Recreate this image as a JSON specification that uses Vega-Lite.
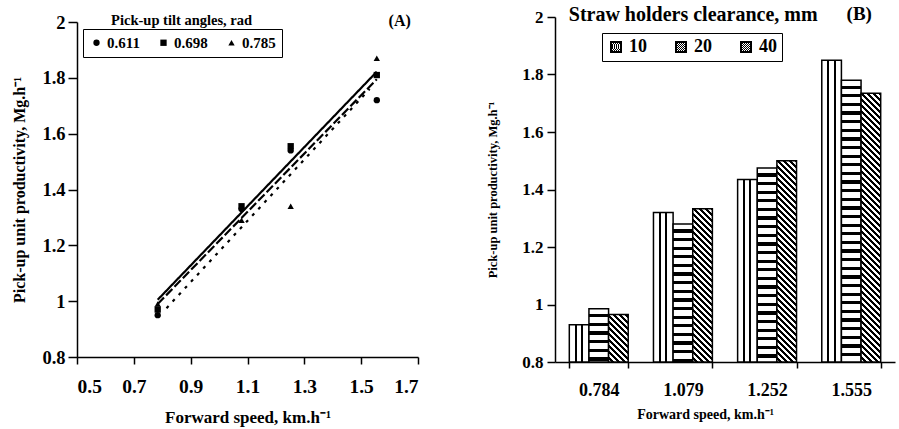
{
"$schema": "https://vega.github.io/schema/vega-lite/v6.json",
"background": "white",
"padding": {"left": 11, "top": 5, "right": 2, "bottom": 2},
"params": [
 {"name": "vgrad", "value": {"gradient": "linear", "x1": 0, "y1": 0, "x2": 1, "y2": 0, "stops": [{"offset":0,"color":"#fff"},{"offset":0.27,"color":"#fff"},{"offset":0.27,"color":"#000"},{"offset":0.37,"color":"#000"},{"offset":0.37,"color":"#fff"},{"offset":0.6,"color":"#fff"},{"offset":0.6,"color":"#000"},{"offset":0.7,"color":"#000"},{"offset":0.7,"color":"#fff"},{"offset":1,"color":"#fff"}]}},
 {"name": "lvgrad", "value": {"gradient": "linear", "x1": 0, "y1": 0, "x2": 1, "y2": 0, "stops": [{"offset":0,"color":"#fff"},{"offset":0.42,"color":"#fff"},{"offset":0.42,"color":"#000"},{"offset":0.58,"color":"#000"},{"offset":0.58,"color":"#fff"},{"offset":1,"color":"#fff"}]}},
 {"name": "lhgrad", "value": {"gradient": "linear", "x1": 0, "y1": 0, "x2": 0, "y2": 1, "stops": [{"offset":0,"color":"#fff"},{"offset":0.42,"color":"#fff"},{"offset":0.42,"color":"#000"},{"offset":0.58,"color":"#000"},{"offset":0.58,"color":"#fff"},{"offset":1,"color":"#fff"}]}},
 {"name": "ldgrad", "value": {"gradient": "linear", "x1": 0, "y1": 0, "x2": 1, "y2": 1, "stops": [{"offset":0,"color":"#fff"},{"offset":0.2,"color":"#fff"},{"offset":0.2,"color":"#000"},{"offset":0.4,"color":"#000"},{"offset":0.4,"color":"#fff"},{"offset":0.6,"color":"#fff"},{"offset":0.6,"color":"#000"},{"offset":0.8,"color":"#000"},{"offset":0.8,"color":"#fff"},{"offset":1,"color":"#fff"}]}},
 {"name": "hstops", "value": [
{"offset":0,"color":"#fff"},{"offset":0.0155,"color":"#fff"},{"offset":0.0155,"color":"#000"},{"offset":0.025,"color":"#000"},
{"offset":0.025,"color":"#fff"},{"offset":0.0405,"color":"#fff"},{"offset":0.0405,"color":"#000"},{"offset":0.05,"color":"#000"},
{"offset":0.05,"color":"#fff"},{"offset":0.0655,"color":"#fff"},{"offset":0.0655,"color":"#000"},{"offset":0.075,"color":"#000"},
{"offset":0.075,"color":"#fff"},{"offset":0.0905,"color":"#fff"},{"offset":0.0905,"color":"#000"},{"offset":0.1,"color":"#000"},
{"offset":0.1,"color":"#fff"},{"offset":0.1155,"color":"#fff"},{"offset":0.1155,"color":"#000"},{"offset":0.125,"color":"#000"},
{"offset":0.125,"color":"#fff"},{"offset":0.1405,"color":"#fff"},{"offset":0.1405,"color":"#000"},{"offset":0.15,"color":"#000"},
{"offset":0.15,"color":"#fff"},{"offset":0.1655,"color":"#fff"},{"offset":0.1655,"color":"#000"},{"offset":0.175,"color":"#000"},
{"offset":0.175,"color":"#fff"},{"offset":0.1905,"color":"#fff"},{"offset":0.1905,"color":"#000"},{"offset":0.2,"color":"#000"},
{"offset":0.2,"color":"#fff"},{"offset":0.2155,"color":"#fff"},{"offset":0.2155,"color":"#000"},{"offset":0.225,"color":"#000"},
{"offset":0.225,"color":"#fff"},{"offset":0.2405,"color":"#fff"},{"offset":0.2405,"color":"#000"},{"offset":0.25,"color":"#000"},
{"offset":0.25,"color":"#fff"},{"offset":0.2655,"color":"#fff"},{"offset":0.2655,"color":"#000"},{"offset":0.275,"color":"#000"},
{"offset":0.275,"color":"#fff"},{"offset":0.2905,"color":"#fff"},{"offset":0.2905,"color":"#000"},{"offset":0.3,"color":"#000"},
{"offset":0.3,"color":"#fff"},{"offset":0.3155,"color":"#fff"},{"offset":0.3155,"color":"#000"},{"offset":0.325,"color":"#000"},
{"offset":0.325,"color":"#fff"},{"offset":0.3405,"color":"#fff"},{"offset":0.3405,"color":"#000"},{"offset":0.35,"color":"#000"},
{"offset":0.35,"color":"#fff"},{"offset":0.3655,"color":"#fff"},{"offset":0.3655,"color":"#000"},{"offset":0.375,"color":"#000"},
{"offset":0.375,"color":"#fff"},{"offset":0.3905,"color":"#fff"},{"offset":0.3905,"color":"#000"},{"offset":0.4,"color":"#000"},
{"offset":0.4,"color":"#fff"},{"offset":0.4155,"color":"#fff"},{"offset":0.4155,"color":"#000"},{"offset":0.425,"color":"#000"},
{"offset":0.425,"color":"#fff"},{"offset":0.4405,"color":"#fff"},{"offset":0.4405,"color":"#000"},{"offset":0.45,"color":"#000"},
{"offset":0.45,"color":"#fff"},{"offset":0.4655,"color":"#fff"},{"offset":0.4655,"color":"#000"},{"offset":0.475,"color":"#000"},
{"offset":0.475,"color":"#fff"},{"offset":0.4905,"color":"#fff"},{"offset":0.4905,"color":"#000"},{"offset":0.5,"color":"#000"},
{"offset":0.5,"color":"#fff"},{"offset":0.5155,"color":"#fff"},{"offset":0.5155,"color":"#000"},{"offset":0.525,"color":"#000"},
{"offset":0.525,"color":"#fff"},{"offset":0.5405,"color":"#fff"},{"offset":0.5405,"color":"#000"},{"offset":0.55,"color":"#000"},
{"offset":0.55,"color":"#fff"},{"offset":0.5655,"color":"#fff"},{"offset":0.5655,"color":"#000"},{"offset":0.575,"color":"#000"},
{"offset":0.575,"color":"#fff"},{"offset":0.5905,"color":"#fff"},{"offset":0.5905,"color":"#000"},{"offset":0.6,"color":"#000"},
{"offset":0.6,"color":"#fff"},{"offset":0.6155,"color":"#fff"},{"offset":0.6155,"color":"#000"},{"offset":0.625,"color":"#000"},
{"offset":0.625,"color":"#fff"},{"offset":0.6405,"color":"#fff"},{"offset":0.6405,"color":"#000"},{"offset":0.65,"color":"#000"},
{"offset":0.65,"color":"#fff"},{"offset":0.6655,"color":"#fff"},{"offset":0.6655,"color":"#000"},{"offset":0.675,"color":"#000"},
{"offset":0.675,"color":"#fff"},{"offset":0.6905,"color":"#fff"},{"offset":0.6905,"color":"#000"},{"offset":0.7,"color":"#000"},
{"offset":0.7,"color":"#fff"},{"offset":0.7155,"color":"#fff"},{"offset":0.7155,"color":"#000"},{"offset":0.725,"color":"#000"},
{"offset":0.725,"color":"#fff"},{"offset":0.7405,"color":"#fff"},{"offset":0.7405,"color":"#000"},{"offset":0.75,"color":"#000"},
{"offset":0.75,"color":"#fff"},{"offset":0.7655,"color":"#fff"},{"offset":0.7655,"color":"#000"},{"offset":0.775,"color":"#000"},
{"offset":0.775,"color":"#fff"},{"offset":0.7905,"color":"#fff"},{"offset":0.7905,"color":"#000"},{"offset":0.8,"color":"#000"},
{"offset":0.8,"color":"#fff"},{"offset":0.8155,"color":"#fff"},{"offset":0.8155,"color":"#000"},{"offset":0.825,"color":"#000"},
{"offset":0.825,"color":"#fff"},{"offset":0.8405,"color":"#fff"},{"offset":0.8405,"color":"#000"},{"offset":0.85,"color":"#000"},
{"offset":0.85,"color":"#fff"},{"offset":0.8655,"color":"#fff"},{"offset":0.8655,"color":"#000"},{"offset":0.875,"color":"#000"},
{"offset":0.875,"color":"#fff"},{"offset":0.8905,"color":"#fff"},{"offset":0.8905,"color":"#000"},{"offset":0.9,"color":"#000"},
{"offset":0.9,"color":"#fff"},{"offset":0.9155,"color":"#fff"},{"offset":0.9155,"color":"#000"},{"offset":0.925,"color":"#000"},
{"offset":0.925,"color":"#fff"},{"offset":0.9405,"color":"#fff"},{"offset":0.9405,"color":"#000"},{"offset":0.95,"color":"#000"},
{"offset":0.95,"color":"#fff"},{"offset":0.9655,"color":"#fff"},{"offset":0.9655,"color":"#000"},{"offset":0.975,"color":"#000"},
{"offset":0.975,"color":"#fff"},{"offset":0.9905,"color":"#fff"},{"offset":0.9905,"color":"#000"},{"offset":1,"color":"#000"}
 ]},
 {"name": "dstops", "value": [
{"offset":0,"color":"#fff"},{"offset":0.01,"color":"#fff"},{"offset":0.01,"color":"#000"},{"offset":0.02,"color":"#000"},
{"offset":0.02,"color":"#fff"},{"offset":0.03,"color":"#fff"},{"offset":0.03,"color":"#000"},{"offset":0.04,"color":"#000"},
{"offset":0.04,"color":"#fff"},{"offset":0.05,"color":"#fff"},{"offset":0.05,"color":"#000"},{"offset":0.06,"color":"#000"},
{"offset":0.06,"color":"#fff"},{"offset":0.07,"color":"#fff"},{"offset":0.07,"color":"#000"},{"offset":0.08,"color":"#000"},
{"offset":0.08,"color":"#fff"},{"offset":0.09,"color":"#fff"},{"offset":0.09,"color":"#000"},{"offset":0.1,"color":"#000"},
{"offset":0.1,"color":"#fff"},{"offset":0.11,"color":"#fff"},{"offset":0.11,"color":"#000"},{"offset":0.12,"color":"#000"},
{"offset":0.12,"color":"#fff"},{"offset":0.13,"color":"#fff"},{"offset":0.13,"color":"#000"},{"offset":0.14,"color":"#000"},
{"offset":0.14,"color":"#fff"},{"offset":0.15,"color":"#fff"},{"offset":0.15,"color":"#000"},{"offset":0.16,"color":"#000"},
{"offset":0.16,"color":"#fff"},{"offset":0.17,"color":"#fff"},{"offset":0.17,"color":"#000"},{"offset":0.18,"color":"#000"},
{"offset":0.18,"color":"#fff"},{"offset":0.19,"color":"#fff"},{"offset":0.19,"color":"#000"},{"offset":0.2,"color":"#000"},
{"offset":0.2,"color":"#fff"},{"offset":0.21,"color":"#fff"},{"offset":0.21,"color":"#000"},{"offset":0.22,"color":"#000"},
{"offset":0.22,"color":"#fff"},{"offset":0.23,"color":"#fff"},{"offset":0.23,"color":"#000"},{"offset":0.24,"color":"#000"},
{"offset":0.24,"color":"#fff"},{"offset":0.25,"color":"#fff"},{"offset":0.25,"color":"#000"},{"offset":0.26,"color":"#000"},
{"offset":0.26,"color":"#fff"},{"offset":0.27,"color":"#fff"},{"offset":0.27,"color":"#000"},{"offset":0.28,"color":"#000"},
{"offset":0.28,"color":"#fff"},{"offset":0.29,"color":"#fff"},{"offset":0.29,"color":"#000"},{"offset":0.3,"color":"#000"},
{"offset":0.3,"color":"#fff"},{"offset":0.31,"color":"#fff"},{"offset":0.31,"color":"#000"},{"offset":0.32,"color":"#000"},
{"offset":0.32,"color":"#fff"},{"offset":0.33,"color":"#fff"},{"offset":0.33,"color":"#000"},{"offset":0.34,"color":"#000"},
{"offset":0.34,"color":"#fff"},{"offset":0.35,"color":"#fff"},{"offset":0.35,"color":"#000"},{"offset":0.36,"color":"#000"},
{"offset":0.36,"color":"#fff"},{"offset":0.37,"color":"#fff"},{"offset":0.37,"color":"#000"},{"offset":0.38,"color":"#000"},
{"offset":0.38,"color":"#fff"},{"offset":0.39,"color":"#fff"},{"offset":0.39,"color":"#000"},{"offset":0.4,"color":"#000"},
{"offset":0.4,"color":"#fff"},{"offset":0.41,"color":"#fff"},{"offset":0.41,"color":"#000"},{"offset":0.42,"color":"#000"},
{"offset":0.42,"color":"#fff"},{"offset":0.43,"color":"#fff"},{"offset":0.43,"color":"#000"},{"offset":0.44,"color":"#000"},
{"offset":0.44,"color":"#fff"},{"offset":0.45,"color":"#fff"},{"offset":0.45,"color":"#000"},{"offset":0.46,"color":"#000"},
{"offset":0.46,"color":"#fff"},{"offset":0.47,"color":"#fff"},{"offset":0.47,"color":"#000"},{"offset":0.48,"color":"#000"},
{"offset":0.48,"color":"#fff"},{"offset":0.49,"color":"#fff"},{"offset":0.49,"color":"#000"},{"offset":0.5,"color":"#000"},
{"offset":0.5,"color":"#fff"},{"offset":0.51,"color":"#fff"},{"offset":0.51,"color":"#000"},{"offset":0.52,"color":"#000"},
{"offset":0.52,"color":"#fff"},{"offset":0.53,"color":"#fff"},{"offset":0.53,"color":"#000"},{"offset":0.54,"color":"#000"},
{"offset":0.54,"color":"#fff"},{"offset":0.55,"color":"#fff"},{"offset":0.55,"color":"#000"},{"offset":0.56,"color":"#000"},
{"offset":0.56,"color":"#fff"},{"offset":0.57,"color":"#fff"},{"offset":0.57,"color":"#000"},{"offset":0.58,"color":"#000"},
{"offset":0.58,"color":"#fff"},{"offset":0.59,"color":"#fff"},{"offset":0.59,"color":"#000"},{"offset":0.6,"color":"#000"},
{"offset":0.6,"color":"#fff"},{"offset":0.61,"color":"#fff"},{"offset":0.61,"color":"#000"},{"offset":0.62,"color":"#000"},
{"offset":0.62,"color":"#fff"},{"offset":0.63,"color":"#fff"},{"offset":0.63,"color":"#000"},{"offset":0.64,"color":"#000"},
{"offset":0.64,"color":"#fff"},{"offset":0.65,"color":"#fff"},{"offset":0.65,"color":"#000"},{"offset":0.66,"color":"#000"},
{"offset":0.66,"color":"#fff"},{"offset":0.67,"color":"#fff"},{"offset":0.67,"color":"#000"},{"offset":0.68,"color":"#000"},
{"offset":0.68,"color":"#fff"},{"offset":0.69,"color":"#fff"},{"offset":0.69,"color":"#000"},{"offset":0.7,"color":"#000"},
{"offset":0.7,"color":"#fff"},{"offset":0.71,"color":"#fff"},{"offset":0.71,"color":"#000"},{"offset":0.72,"color":"#000"},
{"offset":0.72,"color":"#fff"},{"offset":0.73,"color":"#fff"},{"offset":0.73,"color":"#000"},{"offset":0.74,"color":"#000"},
{"offset":0.74,"color":"#fff"},{"offset":0.75,"color":"#fff"},{"offset":0.75,"color":"#000"},{"offset":0.76,"color":"#000"},
{"offset":0.76,"color":"#fff"},{"offset":0.77,"color":"#fff"},{"offset":0.77,"color":"#000"},{"offset":0.78,"color":"#000"},
{"offset":0.78,"color":"#fff"},{"offset":0.79,"color":"#fff"},{"offset":0.79,"color":"#000"},{"offset":0.8,"color":"#000"},
{"offset":0.8,"color":"#fff"},{"offset":0.81,"color":"#fff"},{"offset":0.81,"color":"#000"},{"offset":0.82,"color":"#000"},
{"offset":0.82,"color":"#fff"},{"offset":0.83,"color":"#fff"},{"offset":0.83,"color":"#000"},{"offset":0.84,"color":"#000"},
{"offset":0.84,"color":"#fff"},{"offset":0.85,"color":"#fff"},{"offset":0.85,"color":"#000"},{"offset":0.86,"color":"#000"},
{"offset":0.86,"color":"#fff"},{"offset":0.87,"color":"#fff"},{"offset":0.87,"color":"#000"},{"offset":0.88,"color":"#000"},
{"offset":0.88,"color":"#fff"},{"offset":0.89,"color":"#fff"},{"offset":0.89,"color":"#000"},{"offset":0.9,"color":"#000"},
{"offset":0.9,"color":"#fff"},{"offset":0.91,"color":"#fff"},{"offset":0.91,"color":"#000"},{"offset":0.92,"color":"#000"},
{"offset":0.92,"color":"#fff"},{"offset":0.93,"color":"#fff"},{"offset":0.93,"color":"#000"},{"offset":0.94,"color":"#000"},
{"offset":0.94,"color":"#fff"},{"offset":0.95,"color":"#fff"},{"offset":0.95,"color":"#000"},{"offset":0.96,"color":"#000"},
{"offset":0.96,"color":"#fff"},{"offset":0.97,"color":"#fff"},{"offset":0.97,"color":"#000"},{"offset":0.98,"color":"#000"},
{"offset":0.98,"color":"#fff"},{"offset":0.99,"color":"#fff"},{"offset":0.99,"color":"#000"},{"offset":1,"color":"#000"}
 ]}
],
"datasets": {
 "pts": [
  {"speed": 0.784, "productivity": 0.95, "angle": "0.611"},
  {"speed": 1.079, "productivity": 1.33, "angle": "0.611"},
  {"speed": 1.252, "productivity": 1.54, "angle": "0.611"},
  {"speed": 1.555, "productivity": 1.72, "angle": "0.611"},
  {"speed": 0.784, "productivity": 0.97, "angle": "0.698"},
  {"speed": 1.079, "productivity": 1.34, "angle": "0.698"},
  {"speed": 1.252, "productivity": 1.555, "angle": "0.698"},
  {"speed": 1.555, "productivity": 1.81, "angle": "0.698"},
  {"speed": 0.784, "productivity": 0.99, "angle": "0.785"},
  {"speed": 1.079, "productivity": 1.29, "angle": "0.785"},
  {"speed": 1.252, "productivity": 1.34, "angle": "0.785"},
  {"speed": 1.555, "productivity": 1.87, "angle": "0.785"}
 ],
 "lines": [
  {"speed": 0.784, "productivity": 1.005, "fit": "fit 0.611"},
  {"speed": 1.555, "productivity": 1.822, "fit": "fit 0.611"},
  {"speed": 0.784, "productivity": 0.99, "fit": "fit 0.698"},
  {"speed": 1.555, "productivity": 1.795, "fit": "fit 0.698"},
  {"speed": 0.815, "productivity": 0.975, "fit": "fit 0.785"},
  {"speed": 1.53, "productivity": 1.76, "fit": "fit 0.785"}
 ],
 "bars": [
  {"speed": "0.784", "clearance": "10", "productivity": 0.93},
  {"speed": "0.784", "clearance": "20", "productivity": 0.985},
  {"speed": "0.784", "clearance": "40", "productivity": 0.965},
  {"speed": "1.079", "clearance": "10", "productivity": 1.32},
  {"speed": "1.079", "clearance": "20", "productivity": 1.28},
  {"speed": "1.079", "clearance": "40", "productivity": 1.333},
  {"speed": "1.252", "clearance": "10", "productivity": 1.435},
  {"speed": "1.252", "clearance": "20", "productivity": 1.475},
  {"speed": "1.252", "clearance": "40", "productivity": 1.5},
  {"speed": "1.555", "clearance": "10", "productivity": 1.85},
  {"speed": "1.555", "clearance": "20", "productivity": 1.78},
  {"speed": "1.555", "clearance": "40", "productivity": 1.735}
 ]
},
"hconcat": [
 {
  "width": 341, "height": 335,
  "layer": [
   {
    "data": {"name": "lines"},
    "mark": {"type": "line", "color": "black", "strokeWidth": 2.2},
    "encoding": {
     "x": {"field": "speed", "type": "quantitative", "scale": {"domain": [0.5, 1.7], "nice": false, "zero": false},
       "axis": {"values": [0.5, 0.7, 0.9, 1.1, 1.3, 1.5, 1.7], "format": ".1~f", "title": "Forward speed, km.h⁻¹", "labelFontSize": 19.5, "titleFontSize": 17, "tickSize": 7, "labelPadding": 13, "titlePadding": 14}},
     "y": {"field": "productivity", "type": "quantitative", "scale": {"domain": [0.8, 2], "nice": false, "zero": false},
       "axis": {"values": [0.8, 1, 1.2, 1.4, 1.6, 1.8, 2], "format": ".1~f", "title": "Pick-up unit productivity, Mg.h⁻¹", "labelFontSize": 18.5, "titleFontSize": 16, "tickSize": 9, "labelPadding": 3, "titlePadding": 14}},
     "strokeDash": {"field": "fit", "type": "nominal", "scale": {"domain": ["fit 0.611", "fit 0.698", "fit 0.785"], "range": [[1, 0], [9, 3], [3, 6]]}, "legend": null}
    }
   },
   {
    "data": {"name": "pts"},
    "mark": {"type": "point", "filled": true, "color": "black", "size": 40, "opacity": 1},
    "encoding": {
     "x": {"field": "speed", "type": "quantitative"},
     "y": {"field": "productivity", "type": "quantitative"},
     "shape": {"field": "angle", "type": "nominal", "scale": {"domain": ["0.611", "0.698", "0.785"], "range": ["circle", "square", "triangle-up"]},
       "legend": {"orient": "none", "legendX": 6, "legendY": 7, "direction": "horizontal", "columns": 3, "title": null, "strokeColor": "black", "fillColor": "white", "padding": 6, "labelFontSize": 15, "labelFont": "Liberation Serif", "labelFontWeight": "bold", "labelColor": "black", "symbolSize": 40, "symbolFillColor": "black", "symbolStrokeColor": "black", "columnPadding": 16, "labelOffset": 3,
         "encode": {"legend": {"update": {"strokeWidth": {"value": 1.5}}}, "labels": {"update": {"font": {"value": "Liberation Serif"}, "fontWeight": {"value": "bold"}}}}}}
    }
   },
   {
    "data": {"values": [{}]},
    "mark": {"type": "text", "text": "Pick-up tilt angles, rad", "fontSize": 14.5, "fontWeight": "bold", "font": "Liberation Serif", "baseline": "middle", "align": "left", "dy": -1, "color": "black"},
    "encoding": {"x": {"datum": 0.62, "type": "quantitative"}, "y": {"datum": 2.0, "type": "quantitative"}}
   },
   {
    "data": {"values": [{}]},
    "mark": {"type": "text", "text": "(A)", "fontSize": 16, "fontWeight": "bold", "font": "Liberation Serif", "baseline": "middle", "dy": -1, "dx": 3, "color": "black"},
    "encoding": {"x": {"datum": 1.625, "type": "quantitative"}, "y": {"datum": 2.0, "type": "quantitative"}}
   }
  ]
 },
 {
  "width": 340, "height": 345,
  "layer": [
   {
    "data": {"name": "bars"},
    "mark": {"type": "bar", "strokeWidth": 1.5, "fill": {"expr": "datum.clearance == '10' ? vgrad : datum.clearance == '20' ? {gradient: 'linear', x1: 0, y1: 0, x2: 0, y2: 1.2 / (datum.productivity - 0.8), stops: hstops} : {gradient: 'linear', x1: 0, y1: 1, x2: 300 * 19.6 / (384.16 + pow((datum.productivity - 0.8) * 287.5, 2)), y2: 1 - 300 * (datum.productivity - 0.8) * 287.5 / (384.16 + pow((datum.productivity - 0.8) * 287.5, 2)), stops: dstops}"}},
    "encoding": {
     "x": {"field": "speed", "type": "ordinal", "sort": ["0.784", "1.079", "1.252", "1.555"], "scale": {"paddingInner": 0.3, "paddingOuter": 0.17},
       "axis": {"title": "Forward speed, km.h⁻¹", "labelAngle": 0, "tickBand": "extent", "labelFontSize": 18, "titleFontSize": 14, "tickSize": 6, "labelPadding": 13, "titlePadding": 8, "titleX": 150, "titleAlign": "center"}},
     "xOffset": {"field": "clearance", "type": "nominal", "sort": ["10", "20", "40"]},
     "y": {"field": "productivity", "type": "quantitative", "scale": {"domain": [0.8, 2], "nice": false, "zero": false},
       "axis": {"values": [0.8, 1, 1.2, 1.4, 1.6, 1.8, 2], "format": ".1~f", "title": "Pick-up unit productivity, Mg.h⁻¹", "labelFontSize": 17, "titleFontSize": 12.5, "tickSize": 8, "labelPadding": 4, "titlePadding": 22}},
     "y2": {"datum": 0.8},
     "stroke": {"field": "clearance", "type": "nominal", "scale": {"domain": ["10", "20", "40"], "range": ["black", "black", "black"]},
       "legend": {"orient": "none", "legendX": 47, "legendY": 16, "direction": "horizontal", "columns": 3, "title": null, "strokeColor": "black", "fillColor": "white", "padding": 5, "labelFontSize": 18, "labelFont": "Liberation Serif", "labelFontWeight": "bold", "labelColor": "black", "symbolType": "square", "symbolSize": 100, "symbolStrokeWidth": 2, "columnPadding": 25, "labelOffset": 4,
         "encode": {"symbols": {"update": {"fill": {"signal": "datum.value == '10' ? lvgrad : datum.value == '20' ? lhgrad : ldgrad"}}}, "legend": {"update": {"strokeWidth": {"value": 1.5}}}, "labels": {"update": {"font": {"value": "Liberation Serif"}, "fontWeight": {"value": "bold"}}}}}}
    }
   },
   {
    "data": {"values": [{}]},
    "mark": {"type": "text", "text": "Straw holders clearance, mm", "fontSize": 20, "fontWeight": "bold", "font": "Liberation Serif", "baseline": "middle", "align": "left", "dx": -30, "dy": -2, "color": "black"},
    "encoding": {"x": {"datum": "0.784", "type": "ordinal"}, "y": {"datum": 2.0, "type": "quantitative"}}
   },
   {
    "data": {"values": [{}]},
    "mark": {"type": "text", "text": "(B)", "fontSize": 19, "fontWeight": "bold", "font": "Liberation Serif", "baseline": "middle", "dy": -3, "dx": 8, "color": "black"},
    "encoding": {"x": {"datum": "1.555", "type": "ordinal"}, "y": {"datum": 2.0, "type": "quantitative"}}
   }
  ]
 }
],
"resolve": {"scale": {"shape": "independent", "stroke": "independent", "strokeDash": "independent"}, "legend": {"shape": "independent", "stroke": "independent"}},
"spacing": 137,
"bounds": "flush",
"center": true,
"config": {
 "font": "Liberation Serif",
 "view": {"stroke": null},
 "legend": {"labelFont": "Liberation Serif", "labelFontWeight": "bold", "labelColor": "black"},
 "axis": {"grid": false, "domainColor": "black", "domainWidth": 1.5, "tickColor": "black", "tickWidth": 1.5, "labelColor": "black", "titleColor": "black", "labelFont": "Liberation Serif", "titleFont": "Liberation Serif", "labelFontWeight": "bold", "titleFontWeight": "bold"}
}
}
